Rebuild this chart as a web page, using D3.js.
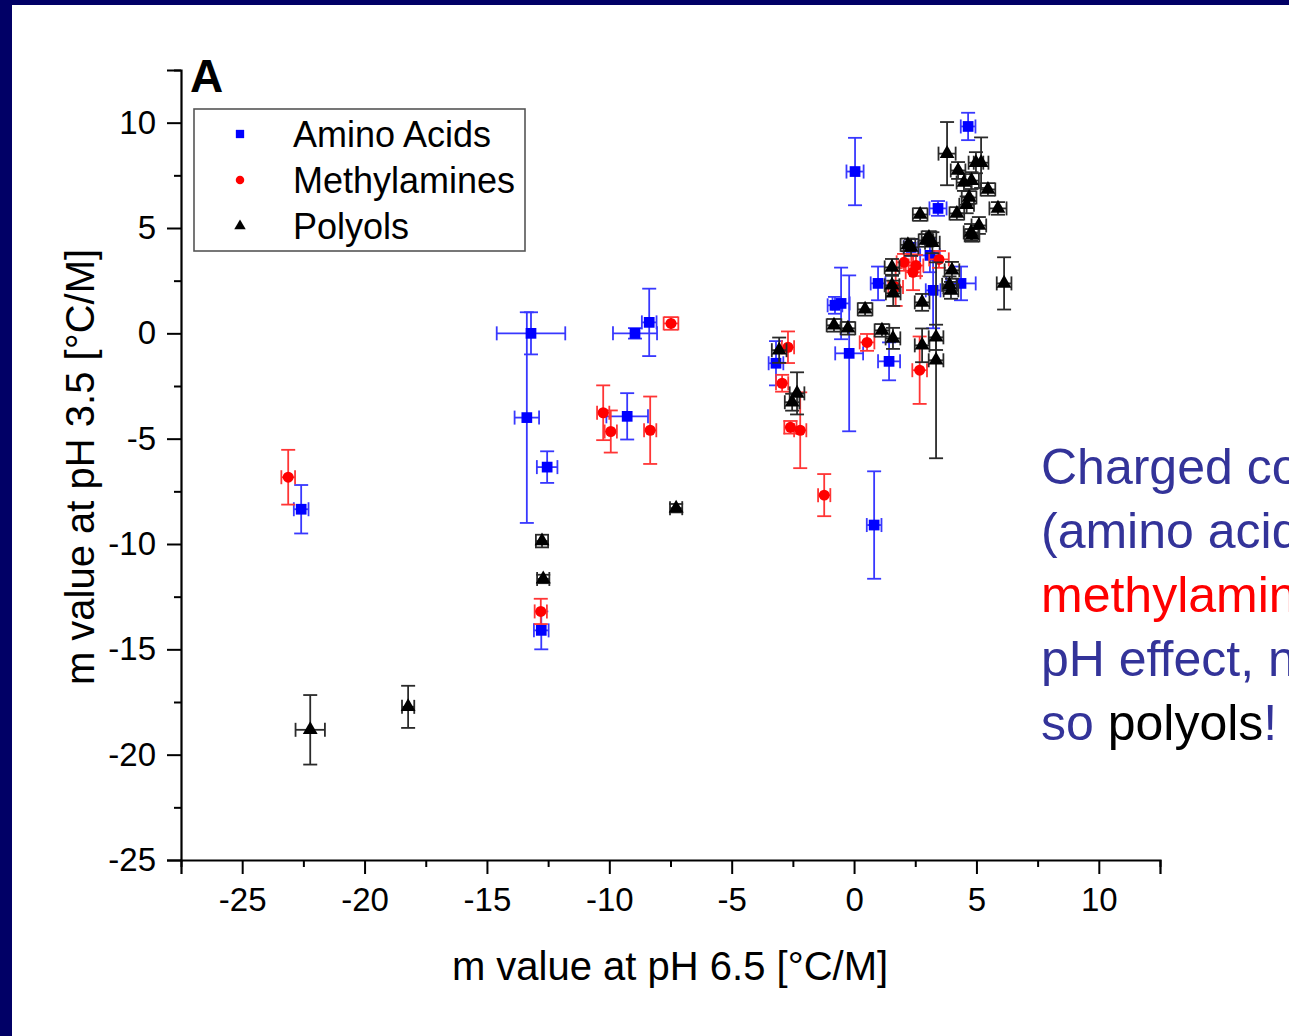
<!DOCTYPE html>
<html>
<head>
<meta charset="utf-8">
<script src="https://cdn.jsdelivr.net/npm/d3@7"></script>
<style>
  html, body { margin: 0; padding: 0; background: #010066; }
  svg { display: block; }
  text { font-family: "Liberation Sans", Arial, sans-serif; }
</style>
</head>
<body>
<svg id="chart" width="1289" height="1036"></svg>
<script>
// m values (°C/M) at pH 6.5 (x) and pH 3.5 (y), with error bars
const aminoX    = [4.66, 0.04, 3.43, 2.33, 3.10, 3.23, 4.37, 0.98, -0.78, -0.53, -0.20, 1.43, 0.82, -3.19, -13.20, -13.37, -12.54, -8.95, -8.37, -9.27, -22.59, -12.78];
const aminoY    = [9.82, 7.68, 5.93, 4.08, 3.70, 2.04, 2.37, 2.37, 1.33, 1.42, -0.95, -1.33, -9.10, -1.42, 0.00, -4.00, -6.35, 0.00, 0.52, -3.94, -8.35, -14.10];
const aminoXErr = [0.30, 0.35, 0.35, 0.30, 0.40, 0.30, 0.60, 0.30, 0.30, 0.35, 0.57, 0.45, 0.30, 0.30, 1.40, 0.50, 0.42, 0.90, 0.30, 0.85, 0.30, 0.30];
const aminoYErr = [0.65, 1.60, 0.35, 0.40, 0.80, 1.80, 0.80, 0.80, 0.40, 1.70, 3.70, 0.90, 2.55, 1.05, 1.00, 5.00, 0.75, 0.25, 1.60, 1.10, 1.15, 0.90];

const methylX    = [-23.12, -12.80, -10.25, -9.94, -8.33, -7.48, -2.70, -2.94, -2.60, -2.20, -1.22, 0.53, 2.68, 2.41, 2.53, 2.04, 1.70, 3.47];
const methylY    = [-6.83, -13.20, -3.77, -4.66, -4.60, 0.47, -0.66, -2.37, -4.46, -4.60, -7.68, -0.43, -1.75, 2.90, 3.22, 3.37, 2.20, 3.51];
const methylXErr = [0.28, 0.25, 0.25, 0.25, 0.25, 0.30, 0.25, 0.25, 0.25, 0.25, 0.25, 0.30, 0.30, 0.30, 0.30, 0.30, 0.30, 0.40];
const methylYErr = [1.30, 0.60, 1.30, 1.00, 1.60, 0.30, 0.75, 0.40, 0.30, 1.80, 1.00, 0.40, 1.60, 0.85, 0.50, 0.40, 0.90, 0.40];

const polyX    = [-22.22, -18.22, -12.75, -12.70, -7.27, -3.06, -2.33, -2.53, -0.82, -0.25, 0.45, 1.14, 1.59, 1.55, 1.55, 1.60, 2.70, 2.33, 2.94, 3.06, 3.20, 2.78, 2.78, 3.35, 3.35, 3.80, 4.25, 4.49, 4.80, 4.98, 5.19, 5.47, 5.88, 4.70, 4.20, 4.60, 4.78, 5.10, 4.82, 6.13, 4.00, 3.96, 3.90, 2.20];
const polyY    = [-18.82, -17.73, -9.86, -11.66, -8.30, -0.80, -2.85, -3.27, 0.38, 0.24, 1.14, 0.14, -0.24, 3.13, 2.28, 1.90, 5.64, 4.08, 4.41, 4.55, 4.30, 1.47, -0.57, -0.19, -1.28, 8.53, 7.73, 7.16, 7.25, 8.10, 8.10, 6.83, 5.93, 6.45, 5.69, 6.10, 4.79, 5.12, 4.65, 2.37, 2.99, 2.04, 2.30, 4.20];
const polyXErr = [0.60, 0.25, 0.25, 0.25, 0.25, 0.30, 0.30, 0.30, 0.30, 0.30, 0.30, 0.30, 0.30, 0.30, 0.30, 0.30, 0.30, 0.30, 0.30, 0.30, 0.30, 0.30, 0.30, 0.30, 0.30, 0.35, 0.30, 0.30, 0.30, 0.30, 0.30, 0.30, 0.35, 0.30, 0.30, 0.30, 0.30, 0.30, 0.30, 0.30, 0.30, 0.30, 0.30, 0.30];
const polyYErr = [1.65, 1.00, 0.30, 0.20, 0.20, 0.60, 1.00, 0.40, 0.30, 0.30, 0.30, 0.30, 0.50, 0.40, 0.50, 0.60, 0.30, 0.40, 0.30, 0.30, 0.50, 0.40, 0.80, 0.60, 4.65, 1.50, 0.40, 0.40, 0.40, 0.50, 1.20, 0.30, 0.30, 0.30, 0.30, 0.40, 0.40, 0.40, 0.30, 1.24, 0.40, 0.40, 0.40, 0.30];

const seriesNames = ["Amino Acids", "Methylamines", "Polyols"];
const xTicks = [-25, -20, -15, -10, -5, 0, 5, 10];
const yTicks = [10, 5, 0, -5, -10, -15, -20, -25];
const xMinor = [-27.5, -22.5, -17.5, -12.5, -7.5, -2.5, 2.5, 7.5, 12.5];
const yMinor = [12.5, 7.5, 2.5, -2.5, -7.5, -12.5, -17.5, -22.5];
const xTitle = "m value at pH 6.5 [°C/M]";
const yTitle = "m value at pH 3.5 [°C/M]";
const panelLabel = "A";

const svg = d3.select("#chart");

// white slide area inside the navy frame
svg.append("rect").attr("x", 12).attr("y", 5).attr("width", 1289 - 12).attr("height", 1036 - 5).attr("fill", "#ffffff");

const x = d3.scaleLinear().domain([-27.5, 12.5]).range([181, 1160]);
const y = d3.scaleLinear().domain([-25, 12.5]).range([860, 70]);

// plain hyphen for negative tick labels
const fmt = d => String(d);

// axes
const gx = svg.append("g").attr("transform", "translate(0,860)");
gx.call(d3.axisBottom(x).tickValues(xTicks).tickSize(14).tickPadding(14).tickFormat(fmt));
const gxm = svg.append("g").attr("transform", "translate(0,860)");
gxm.call(d3.axisBottom(x).tickValues(xMinor).tickSize(7).tickFormat(""));

const gy = svg.append("g").attr("transform", "translate(181,0)");
gy.call(d3.axisLeft(y).tickValues(yTicks).tickSize(14).tickPadding(11).tickFormat(fmt));
const gym = svg.append("g").attr("transform", "translate(181,0)");
gym.call(d3.axisLeft(y).tickValues(yMinor).tickSize(7).tickFormat(""));

[gx, gxm, gy, gym].forEach(g => {
  g.select(".domain").attr("stroke", "#000").attr("stroke-width", 2.2);
  g.selectAll(".tick line").attr("stroke", "#000").attr("stroke-width", 2);
  g.selectAll(".tick text").attr("fill", "#000").attr("font-size", 33)
    .attr("font-family", "'Liberation Sans', Arial, sans-serif");
});
gym.select(".domain").attr("d", null);
gxm.select(".domain").attr("d", null);

// axis titles
svg.append("text").attr("x", 670).attr("y", 980).attr("text-anchor", "middle")
  .attr("font-size", 40).attr("fill", "#000").text(xTitle);
svg.append("text").attr("transform", "translate(94,467) rotate(-90)").attr("text-anchor", "middle")
  .attr("font-size", 40).attr("fill", "#000").text(yTitle);

svg.append("text").attr("x", 190).attr("y", 92).attr("font-size", 46).attr("font-weight", "bold")
  .attr("fill", "#000").text(panelLabel);

// data series
const series = [
  { name: seriesNames[0], xs: aminoX, ys: aminoY, xe: aminoXErr, ye: aminoYErr, color: "#0000ff", bar: "#3838ff", shape: d3.symbolSquare, size: 115 },
  { name: seriesNames[1], xs: methylX, ys: methylY, xe: methylXErr, ye: methylYErr, color: "#ff0000", bar: "#ff3535", shape: d3.symbolCircle, size: 95 },
  { name: seriesNames[2], xs: polyX, ys: polyY, xe: polyXErr, ye: polyYErr, color: "#000000", bar: "#2a2a2a", shape: d3.symbolTriangle, size: 95 }
];

const cap = 7;
series.forEach(s => {
  const pts = s.xs.map((v, i) => ({ x: v, y: s.ys[i], xe: s.xe[i], ye: s.ye[i] }));
  const g = svg.append("g");
  const eb = g.selectAll("g.eb").data(pts).join("g").attr("class", "eb")
    .attr("stroke", s.bar).attr("stroke-width", 1.8).attr("fill", "none");
  // vertical bars + caps
  eb.append("line").attr("x1", d => x(d.x)).attr("x2", d => x(d.x))
    .attr("y1", d => y(d.y + d.ye)).attr("y2", d => y(d.y - d.ye));
  eb.append("line").attr("x1", d => x(d.x) - cap).attr("x2", d => x(d.x) + cap)
    .attr("y1", d => y(d.y + d.ye)).attr("y2", d => y(d.y + d.ye));
  eb.append("line").attr("x1", d => x(d.x) - cap).attr("x2", d => x(d.x) + cap)
    .attr("y1", d => y(d.y - d.ye)).attr("y2", d => y(d.y - d.ye));
  // horizontal bars + caps
  eb.append("line").attr("x1", d => x(d.x - d.xe)).attr("x2", d => x(d.x + d.xe))
    .attr("y1", d => y(d.y)).attr("y2", d => y(d.y));
  eb.append("line").attr("x1", d => x(d.x - d.xe)).attr("x2", d => x(d.x - d.xe))
    .attr("y1", d => y(d.y) - cap).attr("y2", d => y(d.y) + cap);
  eb.append("line").attr("x1", d => x(d.x + d.xe)).attr("x2", d => x(d.x + d.xe))
    .attr("y1", d => y(d.y) - cap).attr("y2", d => y(d.y) + cap);
  // markers
  g.selectAll("path.m").data(pts).join("path").attr("class", "m")
    .attr("d", d3.symbol().type(s.shape).size(s.size))
    .attr("transform", d => `translate(${x(d.x)},${y(d.y)})`)
    .attr("fill", s.color);
});

// legend
const lg = svg.append("g");
lg.append("rect").attr("x", 194).attr("y", 109).attr("width", 331).attr("height", 142)
  .attr("fill", "#fff").attr("stroke", "#555").attr("stroke-width", 1.6);
series.forEach((s, i) => {
  const cy = 134 + i * 46;
  lg.append("path").attr("d", d3.symbol().type(s.shape).size(s.size * 0.6))
    .attr("transform", `translate(240,${cy})`).attr("fill", s.color);
  lg.append("text").attr("x", 293).attr("y", cy + 13).attr("font-size", 36).attr("fill", "#000").text(s.name);
});

// side note
const noteLines = [
  [{ t: "Charged compounds", c: "#333399" }],
  [{ t: "(amino acids,", c: "#333399" }],
  [{ t: "methylamines", c: "#ff0000" }],
  [{ t: "pH effect, not", c: "#333399" }],
  [{ t: "so ", c: "#333399" }, { t: "polyols", c: "#000000" }, { t: "!", c: "#333399" }]
];
const note = svg.append("text").attr("x", 1041).attr("font-size", 50);
noteLines.forEach((line, i) => {
  line.forEach((part, j) => {
    const ts = note.append("tspan").attr("fill", part.c).text(part.t);
    if (j === 0) ts.attr("x", 1041).attr("y", 484 + i * 64);
  });
});
</script>
</body>
</html>
